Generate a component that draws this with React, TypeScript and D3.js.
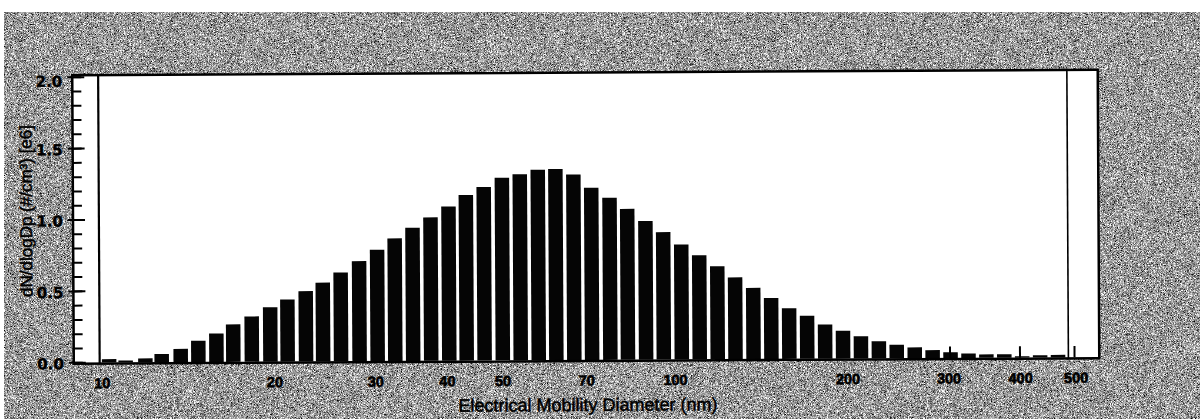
import React from "react";
import * as d3 from "d3";

// SMPS channel midpoints (nm), 32 channels per decade
const channelDiameters = [
  10.2, 10.9, 11.8, 12.6, 13.6, 14.6, 15.7, 16.8, 18.1, 19.5,
  20.9, 22.5, 24.1, 25.9, 27.9, 30.0, 32.2, 34.6, 37.2, 40.0,
  42.9, 46.1, 49.6, 53.3, 57.3, 61.5, 66.1, 71.0, 76.4, 82.0,
  88.2, 94.7, 101.8, 109.4, 117.6, 126.3, 135.8, 145.9, 156.8, 168.5,
  181.1, 194.6, 209.1, 224.7, 241.4, 259.5, 278.8, 299.6, 322.0, 346.0,
  371.8, 399.5, 429.4, 461.4,
];

// dN/dlogDp per channel, in units of 1e6 #/cm³
const dNdlogDp = [
  0.024, 0.014, 0.028, 0.058, 0.093, 0.149, 0.2, 0.263, 0.318, 0.381,
  0.435, 0.493, 0.552, 0.622, 0.701, 0.78, 0.859, 0.933, 1.005, 1.081,
  1.16, 1.216, 1.28, 1.304, 1.334, 1.339, 1.3, 1.206, 1.136, 1.057,
  0.972, 0.893, 0.805, 0.73, 0.652, 0.573, 0.499, 0.427, 0.355, 0.301,
  0.24, 0.195, 0.156, 0.12, 0.095, 0.076, 0.056, 0.04, 0.031, 0.024,
  0.025, 0.01, 0.016, 0.018,
];

// narrow single-channel spikes
const spikeDiameters = [299, 396, 493];
const spikeValues = [0.08, 0.08, 0.08];

// lower / upper scan limits (nm)
const scanLimits = [9.82, 481];

const xTickValues = [10, 20, 30, 40, 50, 70, 100, 200, 300, 400, 500];
const yMajorTicks = [0, 0.5, 1.0, 1.5, 2.0];
const yMinorTicks = d3.range(0, 2.0001, 0.1);

const W = 1200;
const H = 419;
const left = 73;
const right = 1098.5;
const top = 72.5;
const bottom = 361;

export default function App() {
  const x = d3.scaleLog().domain([8.85, 544.5]).range([left, right]);
  const y = d3.scaleLinear().domain([0, 2]).range([360, 74.5]);
  const halfStep = 0.81 / 2 / 32; // bar half-width in decades

  return (
    <svg
      width={W}
      height={H}
      style={{ position: "absolute", left: 0, top: 0, display: "block" }}
    >
      <defs>
        <filter
          id="grain"
          x="0"
          y="0"
          width="100%"
          height="100%"
          colorInterpolationFilters="sRGB"
        >
          <feTurbulence type="fractalNoise" baseFrequency="1.7" numOctaves="1" seed="7" />
          <feColorMatrix
            type="matrix"
            values="0.33 0.33 0.33 0 0 0.33 0.33 0.33 0 0 0.33 0.33 0.33 0 0 0 0 0 0 1"
          />
          <feComponentTransfer>
            <feFuncR type="linear" slope="3.5" intercept="-1.13" />
            <feFuncG type="linear" slope="3.5" intercept="-1.13" />
            <feFuncB type="linear" slope="3.5" intercept="-1.13" />
            <feFuncA type="linear" slope="0" intercept="1" />
          </feComponentTransfer>
        </filter>
      </defs>
      <rect x={0} y={0} width={W} height={H} fill="#fff" />
      <rect x={4} y={12} width={W - 4} height={H - 12} filter="url(#grain)" />

      <g transform="rotate(-0.31, 585, 216)">
        {/* plot area */}
        <rect x={left} y={top} width={right - left} height={bottom - top} fill="#fff" />

        {/* bars */}
        {channelDiameters.map((d, i) => {
          const x0 = x(d * Math.pow(10, -halfStep));
          const x1 = x(d * Math.pow(10, halfStep));
          return (
            <rect
              key={i}
              x={x0}
              y={y(dNdlogDp[i])}
              width={x1 - x0}
              height={y(0) - y(dNdlogDp[i])}
              fill="#050505"
            />
          );
        })}

        {/* spikes */}
        {spikeDiameters.map((d, i) => (
          <line
            key={i}
            x1={x(d)}
            x2={x(d)}
            y1={y(0)}
            y2={y(spikeValues[i])}
            stroke="#000"
            strokeWidth={2}
          />
        ))}

        {/* scan limit markers */}
        <line x1={x(scanLimits[0])} x2={x(scanLimits[0])} y1={top} y2={bottom} stroke="#000" strokeWidth={2.2} />
        <line x1={x(scanLimits[1])} x2={x(scanLimits[1])} y1={top} y2={bottom} stroke="#000" strokeWidth={1.6} />

        {/* frame */}
        <rect
          x={left}
          y={top}
          width={right - left}
          height={bottom - top}
          fill="none"
          stroke="#000"
          strokeWidth={2.5}
        />

        {/* y ticks */}
        {yMinorTicks.map((t, i) => (
          <line key={i} x1={left} x2={left + 9} y1={y(t)} y2={y(t)} stroke="#000" strokeWidth={2} />
        ))}
        {yMajorTicks.map((t, i) => (
          <g key={i}>
            <line x1={left - 5} x2={left + 12} y1={y(t)} y2={y(t)} stroke="#000" strokeWidth={2} />
            <text
              x={left - 10}
              y={y(t) + (t === 2 ? 4 : 1)}
              dy="0.36em"
              textAnchor="end"
              fontFamily="DejaVu Sans"
              fontWeight="bold"
              fontSize={15}
              fill="#000"
              stroke="#000"
              strokeWidth={0.4}
            >
              {d3.format(".1f")(t)}
            </text>
          </g>
        ))}

        {/* x tick labels */}
        {xTickValues.map((t, i) => (
          <text
            key={i}
            x={x(t) - 2}
            y={385.5}
            textAnchor="middle"
            fontFamily="Liberation Sans"
            fontWeight="bold"
            fontSize={14.5}
            fill="#000"
            stroke="#000"
            strokeWidth={0.6}
          >
            {t}
          </text>
        ))}

        {/* axis titles */}
        <text
          x={587}
          y={411}
          textAnchor="middle"
          fontFamily="Liberation Sans"
          fontSize={18}
          fill="#000"
          stroke="#000"
          strokeWidth={0.5}
        >
          Electrical Mobility Diameter (nm)
        </text>
        <text
          transform="translate(26, 208) rotate(-90)"
          textAnchor="middle"
          dy="0.35em"
          fontFamily="Liberation Sans"
          fontSize={17}
          fill="#000"
          stroke="#000"
          strokeWidth={0.5}
        >
          dN/dlogDp (#/cm³) [e6]
        </text>
      </g>
    </svg>
  );
}
